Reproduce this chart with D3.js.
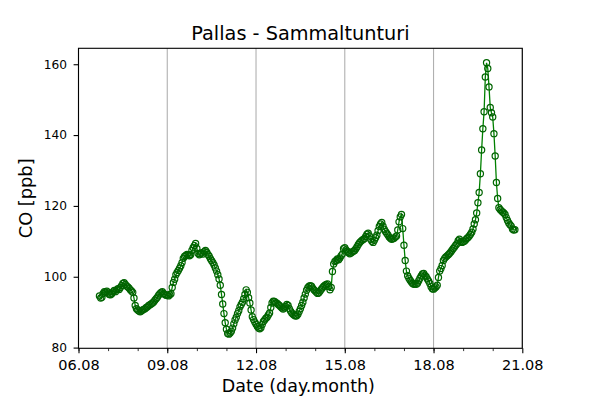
<!DOCTYPE html>
<html>
<head>
<meta charset="utf-8">
<script src="https://cdn.jsdelivr.net/npm/d3@7"></script>
<style>
  body { margin: 0; background: #fff; }
  text { font-family: "DejaVu Sans", sans-serif; }
</style>
</head>
<body>
<script>
// hourly CO [ppb], first value 06.08 17:00, one array per day
var co06 = [94.6, 94.0, 94.2, 95.3, 95.8, 95.6, 95.9];
var co07 = [95.4, 95.0, 94.9, 95.2, 95.7, 96.1, 95.8, 96.3, 96.6, 96.4, 97.0, 97.5,
            98.1, 98.3, 97.8, 97.4, 97.1, 96.8, 96.3, 96.0, 95.6, 94.0, 91.9, 91.0];
var co08 = [90.6, 90.3, 90.1, 90.3, 90.6, 90.8, 91.0, 91.3, 91.5, 91.9, 92.1, 92.3,
            92.6, 92.9, 93.4, 93.8, 94.2, 94.8, 95.2, 95.6, 95.8, 95.3, 95.0, 94.8];
var co09 = [94.8, 94.6, 94.9, 95.2, 97.0, 98.4, 99.3, 100.6, 101.2, 101.8, 102.4, 103.1,
            104.0, 105.2, 105.7, 106.0, 106.3, 106.1, 105.9, 106.2, 107.4, 108.2, 108.8, 109.4];
var co10 = [108.0, 106.6, 106.2, 106.5, 106.8, 106.4, 107.1, 107.4, 106.9, 106.3, 105.8, 105.1,
            104.5, 104.0, 103.3, 102.5, 101.6, 100.6, 99.4, 97.6, 95.0, 92.3, 89.6, 87.0];
var co11 = [85.2, 84.0, 83.8, 84.1, 84.6, 85.5, 86.7, 87.8, 88.6, 89.6, 90.4, 91.5,
            92.2, 92.8, 93.8, 95.0, 96.3, 95.6, 94.1, 92.6, 90.6, 88.7, 87.9, 87.2];
var co12 = [86.6, 86.0, 85.5, 85.3, 85.6, 86.5, 87.4, 87.8, 88.3, 88.6, 89.2, 89.8,
            91.3, 92.6, 93.1, 93.0, 92.7, 92.5, 92.2, 91.9, 91.5, 91.2, 90.9, 91.2];
var co13 = [91.6, 92.2, 91.9, 91.0, 90.3, 89.8, 89.4, 89.1, 88.9, 89.0, 89.4, 90.2,
            91.0, 91.9, 92.8, 94.0, 95.1, 96.2, 96.9, 97.3, 97.5, 97.3, 96.8, 96.3];
var co14 = [96.0, 95.6, 95.3, 95.5, 96.0, 96.5, 96.9, 97.3, 97.6, 97.8, 98.0, 97.2,
            96.3, 97.0, 101.5, 103.6, 104.3, 104.6, 105.0, 104.8, 105.3, 105.9, 106.4, 107.9];
var co15 = [108.2, 107.6, 107.2, 106.8, 106.5, 106.7, 107.0, 107.2, 107.4, 107.9, 108.5, 109.1,
            109.6, 110.0, 110.3, 110.5, 110.8, 111.4, 112.0, 112.3, 111.5, 110.6, 110.0, 109.7];
var co16 = [110.3, 111.0, 111.7, 113.0, 114.2, 114.9, 115.3, 114.3, 113.4, 112.8, 112.3, 111.8,
            111.2, 110.9, 110.6, 110.7, 110.9, 111.2, 111.5, 113.2, 115.5, 116.9, 117.6, 113.6];
var co17 = [108.9, 104.6, 101.6, 100.3, 99.6, 99.0, 98.5, 98.1, 97.9, 98.0, 97.9, 98.2,
            98.9, 99.6, 100.2, 100.8, 100.9, 100.4, 100.0, 99.4, 98.8, 98.1, 97.2, 96.6];
var co18 = [96.5, 96.8, 97.1, 97.6, 99.8, 101.6, 102.3, 103.2, 104.6, 105.2, 105.6, 105.9,
            106.2, 106.6, 107.0, 107.5, 108.0, 108.4, 108.9, 109.3, 110.2, 110.6, 110.0, 109.7];
var co19 = [109.9, 110.0, 110.4, 110.8, 111.1, 111.5, 112.0, 112.6, 113.5, 114.9, 116.1, 118.0,
            120.9, 123.8, 129.1, 135.8, 141.8, 146.6, 156.4, 160.4, 158.8, 153.6, 147.8, 146.3];
var co20 = [145.1, 140.4, 134.1, 126.6, 122.1, 119.5, 119.0, 118.6, 118.3, 118.0, 117.6, 116.7,
            115.9, 115.2, 114.7, 114.3, 113.5, 113.2, 113.3];

var tickLabels = ["06.08", "09.08", "12.08", "15.08", "18.08", "21.08"];
var yTicks = [80, 100, 120, 140, 160];

var year = 2018;
var parseDay = d3.timeParse("%d.%m.%Y");
var t0 = new Date(year, 7, 6, 17);

var values = [].concat(co06, co07, co08, co09, co10, co11, co12, co13,
                       co14, co15, co16, co17, co18, co19, co20);
var data = values.map(function(v, i) { return {t: d3.timeHour.offset(t0, i), v: v}; });

var W = 600, H = 400;
var L = 78.5, R = 522.3, T = 48.3, B = 348.3;

var svg = d3.select("body").append("svg")
    .attr("width", W)
    .attr("height", H);

var majors = tickLabels.map(function(s) { return parseDay(s + "." + year); });
var x = d3.scaleTime()
    .domain([majors[0], majors[majors.length - 1]])
    .range([L, R]);

var y = d3.scaleLinear()
    .domain([79.8, 164.5])
    .range([B, T]);

// vertical grid at major ticks
svg.append("g")
  .selectAll("line")
  .data(majors)
  .enter().append("line")
    .attr("x1", function(d) { return x(d); })
    .attr("x2", function(d) { return x(d); })
    .attr("y1", T)
    .attr("y2", B)
    .attr("stroke", "#b0b0b0")
    .attr("stroke-width", 1.1);

// line + open markers
var line = d3.line()
    .x(function(d) { return x(d.t); })
    .y(function(d) { return y(d.v); });

svg.append("path")
    .datum(data)
    .attr("d", line)
    .attr("fill", "none")
    .attr("stroke", "#008000")
    .attr("stroke-width", 1.3);

svg.append("g")
  .selectAll("circle")
  .data(data)
  .enter().append("circle")
    .attr("cx", function(d) { return x(d.t); })
    .attr("cy", function(d) { return y(d.v); })
    .attr("r", 3.1)
    .attr("fill", "none")
    .attr("stroke", "#006400")
    .attr("stroke-width", 1.2);

// minor x ticks (daily)
var minors = d3.timeDay.range(majors[0], majors[majors.length - 1]);
var gMinor = svg.append("g")
    .attr("transform", "translate(0," + B + ")")
    .call(d3.axisBottom(x).tickValues(minors).tickSize(2.8).tickFormat(""));
gMinor.select(".domain").remove();

// major x ticks
var gx = svg.append("g")
    .attr("transform", "translate(0," + B + ")")
    .call(d3.axisBottom(x)
      .tickValues(majors)
      .tickSize(4.9)
      .tickPadding(6.2)
      .tickFormat(d3.timeFormat("%d.%m")));
gx.select(".domain").remove();
gx.selectAll("text")
    .attr("font-family", "DejaVu Sans")
    .attr("font-size", 14.5)
    .attr("fill", "#000");
gx.selectAll("line").attr("stroke", "#000").attr("stroke-width", 1.1);
gMinor.selectAll("line").attr("stroke", "#000").attr("stroke-width", 0.8);

// y ticks
var gy = svg.append("g")
    .attr("transform", "translate(" + L + ",0)")
    .call(d3.axisLeft(y)
      .tickValues(yTicks)
      .tickSize(4.9)
      .tickPadding(6.6));
gy.select(".domain").remove();
gy.selectAll("text")
    .attr("font-family", "DejaVu Sans")
    .attr("font-size", 12.2)
    .attr("fill", "#000");
gy.selectAll("line").attr("stroke", "#000").attr("stroke-width", 1.1);

// frame
svg.append("rect")
    .attr("x", L)
    .attr("y", T)
    .attr("width", R - L)
    .attr("height", B - T)
    .attr("fill", "none")
    .attr("stroke", "#000")
    .attr("stroke-width", 1.1);

// labels
svg.append("text")
    .attr("x", (L + R) / 2)
    .attr("y", 40)
    .attr("text-anchor", "middle")
    .attr("font-size", 19.3)
    .text("Pallas - Sammaltunturi");

svg.append("text")
    .attr("x", (L + R) / 2 - 2)
    .attr("y", 391.5)
    .attr("text-anchor", "middle")
    .attr("font-size", 17.5)
    .text("Date (day.month)");

svg.append("text")
    .attr("transform", "translate(32.3," + (T + B) / 2 + ") rotate(-90)")
    .attr("text-anchor", "middle")
    .attr("font-size", 17.8)
    .text("CO [ppb]");
</script>
</body>
</html>
